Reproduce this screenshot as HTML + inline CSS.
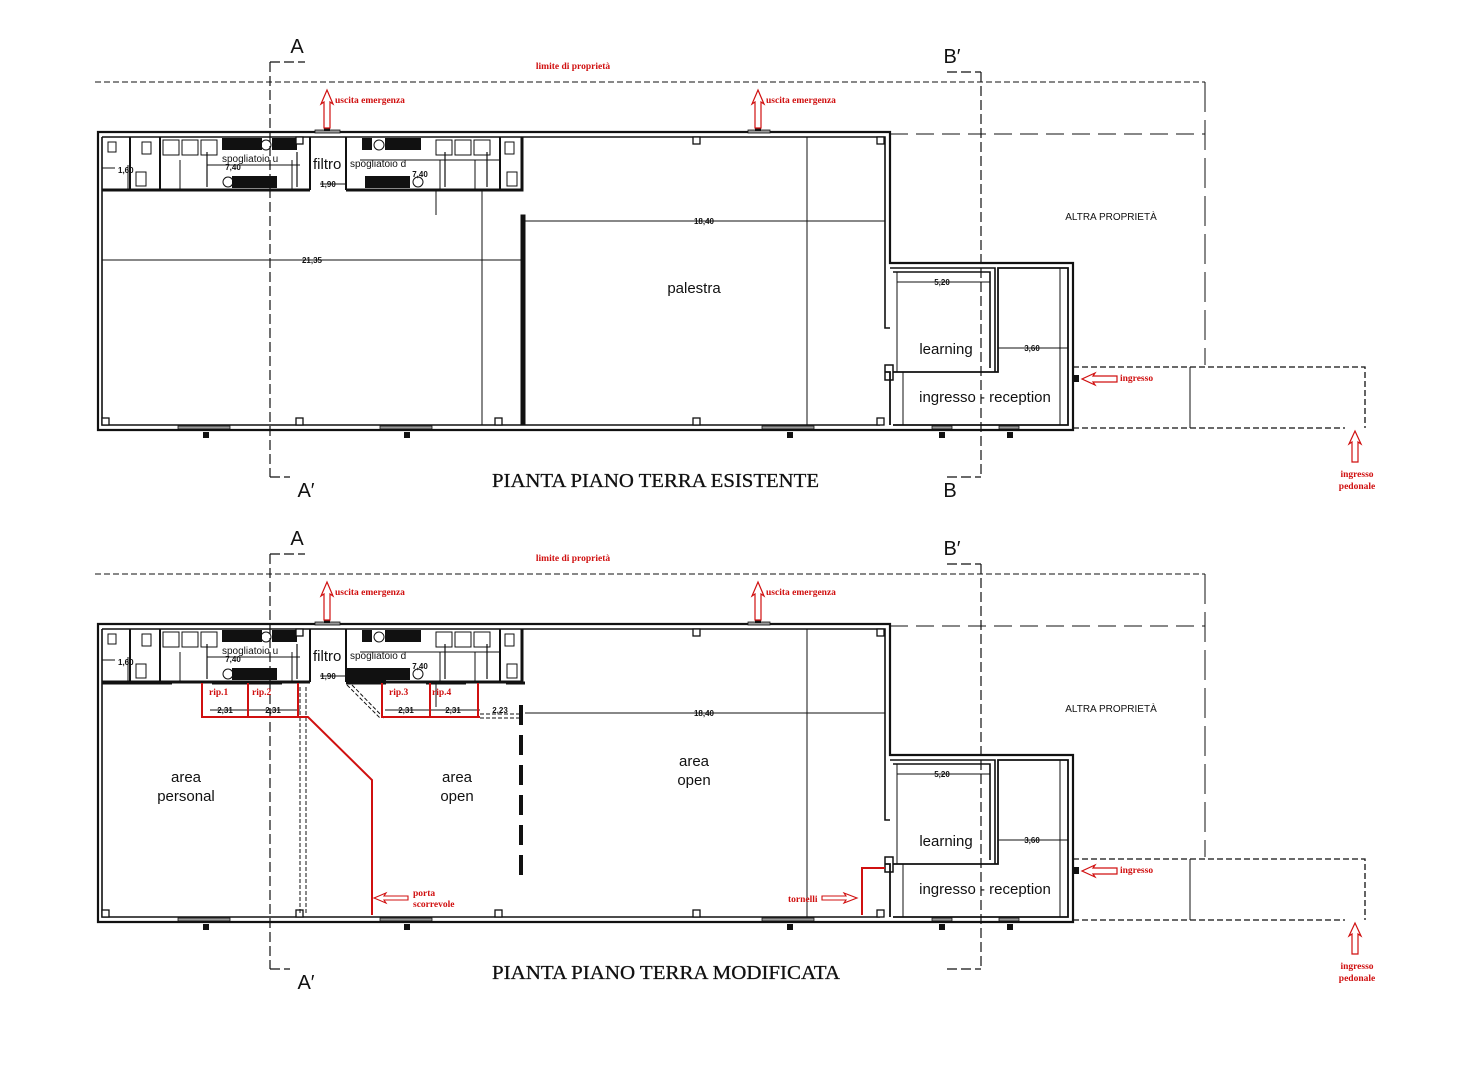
<!DOCTYPE html>
<html><head><meta charset="utf-8"><style>
html,body{margin:0;padding:0;background:#fff;}
svg{display:block}
.t{font-family:"Liberation Sans",sans-serif;fill:#111}
.r{font-family:"Liberation Serif",serif;fill:#d01010;font-weight:bold}
.d{font-family:"Liberation Sans",sans-serif;font-size:8px;font-weight:bold;fill:#111}
.ti{font-family:"Liberation Serif",serif;font-size:20px;fill:#111;stroke:#111;stroke-width:0.3}
</style></head><body>
<svg width="1480" height="1080" viewBox="0 0 1480 1080" xmlns="http://www.w3.org/2000/svg">
<defs>
<g id="base" fill="none" stroke="#111">
 <path d="M95 82H1205" stroke-dasharray="6 3" stroke-width="1"/>
 <path d="M1205 82V365" stroke-dasharray="30 8" stroke-width="1"/>
 <path d="M890 134H1205" stroke-dasharray="18 8" stroke-width="1"/>
 <path d="M1073 367H1365V428M1073 428H1345" stroke-dasharray="6 3" stroke-width="1.3"/>
 <path d="M1190 367V428" stroke-width="1"/>
 <path d="M270 62V477M270 62H305M270 477H290" stroke-dasharray="10 4" stroke-width="1.2"/>
 <path d="M981 72V477M947 72H981M947 477H981" stroke-dasharray="10 4" stroke-width="1.2"/>
 <path d="M98 132H890V263H1073V430H98Z" stroke-width="2.2"/>
 <path d="M102 137H885V328H890M102 137V425H880" stroke-width="1.6"/>
 <path d="M885 372H890V425M893 425H1068V268H998V372H893" stroke-width="1.8"/>
 <path d="M890 268H995V372M893 272H990V368" stroke-width="1.6"/>
 <path d="M885 365H893V380H885Z" stroke-width="1.5"/>
 <path d="M998 348H1068M1060 268V425M903 372V425M897 272V372" stroke-width="1"/>
 <path d="M522 137V190H346M310 190H102" stroke-width="3"/>
 <path d="M310 137V190M346 137V190M130 137V190M160 137V190M500 137V190" stroke-width="2"/>
 <path d="M207 152V187M297 152V187M445 152V187M487 152V187" stroke-width="1.2"/>
 <path d="M207 165H300M360 160H500M115 168H102" stroke-width="1"/>
 <g fill="#111" stroke="none">
  <rect x="222" y="138" width="40" height="12"/><rect x="272" y="138" width="25" height="12"/>
  <rect x="232" y="176" width="45" height="12"/><rect x="362" y="138" width="10" height="12"/>
  <rect x="385" y="138" width="36" height="12"/><rect x="365" y="176" width="45" height="12"/>
 </g>
 <g stroke-width="1">
  <rect x="163" y="140" width="16" height="15"/><rect x="182" y="140" width="16" height="15"/><rect x="201" y="140" width="16" height="15"/>
  <rect x="436" y="140" width="16" height="15"/><rect x="455" y="140" width="16" height="15"/><rect x="474" y="140" width="16" height="15"/>
  <rect x="108" y="142" width="8" height="10"/><rect x="142" y="142" width="9" height="12"/><rect x="136" y="172" width="10" height="14"/>
  <rect x="505" y="142" width="9" height="12"/><rect x="507" y="172" width="10" height="14"/>
  <circle cx="266" cy="145" r="5"/><circle cx="228" cy="182" r="5"/><circle cx="379" cy="145" r="5"/><circle cx="418" cy="182" r="5"/>
 </g>
 <g fill="#fff" stroke-width="1.3">
  <rect x="296" y="137" width="7" height="7"/><rect x="693" y="137" width="7" height="7"/><rect x="877" y="137" width="7" height="7"/>
  <rect x="102" y="418" width="7" height="7"/><rect x="296" y="418" width="7" height="7"/><rect x="495" y="418" width="7" height="7"/>
  <rect x="693" y="418" width="7" height="7"/><rect x="877" y="418" width="7" height="7"/>
 </g>
 <g fill="#999" stroke-width="0.8">
  <rect x="178" y="426" width="52" height="3"/><rect x="380" y="426" width="52" height="3"/><rect x="762" y="426" width="52" height="3"/>
  <rect x="932" y="426" width="20" height="3"/><rect x="999" y="426" width="20" height="3"/><rect x="315" y="130" width="25" height="3"/><rect x="748" y="130" width="22" height="3"/>
 </g>
 <g fill="#111" stroke="none">
  <rect x="203" y="432" width="6" height="6"/><rect x="404" y="432" width="6" height="6"/><rect x="787" y="432" width="6" height="6"/>
  <rect x="939" y="432" width="6" height="6"/><rect x="1007" y="432" width="6" height="6"/><rect x="1073" y="375" width="6" height="7"/>
  <rect x="324" y="124" width="6" height="7"/><rect x="755" y="124" width="6" height="7"/>
 </g>
 <g stroke-width="1">
  <path d="M525 221H885M807 137V425M897 282H990M998 348H1068"/>
  <path d="M1068 268V425"/>
  <path d="M180 190V160M292 190V160M475 160V190M440 160V190M320 184H346M128 165V190M436 190V215"/>
 </g>
 <g stroke="#d01010" stroke-width="1.2" fill="#fff">
  <path d="M324 128V102L321 104L327 90L333 104L330 102V128Z"/>
  <path d="M755 128V102L752 104L758 90L764 104L761 102V128Z"/>
  <path d="M1117 376H1093L1095 373L1082 379L1095 385L1093 382H1117Z"/>
  <path d="M1352 462V442L1349 444L1355 431L1361 444L1358 442V462Z"/>
 </g>
</g>
</defs>

<use href="#base"/>
<use href="#base" y="492"/>

<g stroke="#111" fill="none">
 <path d="M102 260H521M482 190V425" stroke-width="1"/>
 <rect x="521" y="215" width="4" height="210" fill="#111"/>
</g>
<g stroke="#111" fill="none">
 <path d="M102 683H305" stroke-width="3" stroke-dasharray="70 40"/>
 <path d="M346 683H525" stroke-width="3" stroke-dasharray="40 40"/>
 <rect x="346" y="668" width="40" height="14" fill="#111" stroke="none"/>
 <path d="M521 705V885" stroke-width="4" stroke-dasharray="20 10"/>
 <path d="M300 687V915M306 687V915M347 685L380 718M352 685L384 718M480 714H521M480 718H521" stroke-width="1" stroke-dasharray="4 2"/>
 <path d="M210 710H300M385 710H480" stroke-width="1"/>
</g>
<g stroke="#d01010" fill="none" stroke-width="2">
 <path d="M202 683V717H300M248 683V717M298 683V717"/>
 <path d="M382 683V717H480M430 683V717M478 683V717"/>
 <path d="M300 717H308L372 780V915"/>
 <path d="M862 915V868H885"/>
</g>
<g stroke="#d01010" stroke-width="1.1" fill="#fff">
 <path d="M408 896H384L386 893L374 898L386 903L384 900H408Z"/>
 <path d="M822 896H846L844 893L857 898L844 903L846 900H822Z"/>
</g>

<text class="t" x="297" y="53" font-size="20" text-anchor="middle">A</text>
<text class="t" x="306" y="497" font-size="20" text-anchor="middle">A′</text>
<text class="t" x="952" y="63" font-size="20" text-anchor="middle">B′</text>
<text class="t" x="950" y="497" font-size="20" text-anchor="middle">B</text>
<text class="r" x="573" y="69" font-size="9.5" text-anchor="middle">limite di proprietà</text>
<text class="r" x="335" y="103" font-size="9.5">uscita emergenza</text>
<text class="r" x="766" y="103" font-size="9.5">uscita emergenza</text>
<text class="r" x="1120" y="381" font-size="9.5">ingresso</text>
<text class="r" x="1357" y="477" font-size="9.5" text-anchor="middle">ingresso</text>
<text class="r" x="1357" y="489" font-size="9.5" text-anchor="middle">pedonale</text>
<text class="t" x="1111" y="220" font-size="10" text-anchor="middle">ALTRA PROPRIETÀ</text>
<text class="t" x="222" y="162" font-size="10">spogliatoio u</text>
<text class="t" x="313" y="169" font-size="15">filtro</text>
<text class="t" x="350" y="167" font-size="10">spogliatoio d</text>
<text class="t" x="694" y="293" font-size="15" text-anchor="middle">palestra</text>
<text class="t" x="946" y="354" font-size="15" text-anchor="middle">learning</text>
<text class="t" x="985" y="402" font-size="15" text-anchor="middle">ingresso - reception</text>
<text class="ti" x="492" y="487" textLength="327" lengthAdjust="spacingAndGlyphs">PIANTA PIANO TERRA ESISTENTE</text>
<g class="d">
 <text x="233" y="170" text-anchor="middle">7,40</text><text x="420" y="177" text-anchor="middle">7,40</text>
 <text x="328" y="187" text-anchor="middle">1,90</text><text x="118" y="173">1,60</text>
 <text x="704" y="224" text-anchor="middle">18,40</text><text x="312" y="263" text-anchor="middle">21,35</text>
 <text x="942" y="285" text-anchor="middle">5,20</text><text x="1032" y="351" text-anchor="middle">3,60</text>
</g>

<text class="t" x="297" y="545" font-size="20" text-anchor="middle">A</text>
<text class="t" x="306" y="989" font-size="20" text-anchor="middle">A′</text>
<text class="t" x="952" y="555" font-size="20" text-anchor="middle">B′</text>
<text class="r" x="573" y="561" font-size="9.5" text-anchor="middle">limite di proprietà</text>
<text class="r" x="335" y="595" font-size="9.5">uscita emergenza</text>
<text class="r" x="766" y="595" font-size="9.5">uscita emergenza</text>
<text class="r" x="1120" y="873" font-size="9.5">ingresso</text>
<text class="r" x="1357" y="969" font-size="9.5" text-anchor="middle">ingresso</text>
<text class="r" x="1357" y="981" font-size="9.5" text-anchor="middle">pedonale</text>
<text class="t" x="1111" y="712" font-size="10" text-anchor="middle">ALTRA PROPRIETÀ</text>
<text class="t" x="222" y="654" font-size="10">spogliatoio u</text>
<text class="t" x="313" y="661" font-size="15">filtro</text>
<text class="t" x="350" y="659" font-size="10">spogliatoio d</text>
<text class="t" x="186" y="782" font-size="15" text-anchor="middle">area</text>
<text class="t" x="186" y="801" font-size="15" text-anchor="middle">personal</text>
<text class="t" x="457" y="782" font-size="15" text-anchor="middle">area</text>
<text class="t" x="457" y="801" font-size="15" text-anchor="middle">open</text>
<text class="t" x="694" y="766" font-size="15" text-anchor="middle">area</text>
<text class="t" x="694" y="785" font-size="15" text-anchor="middle">open</text>
<text class="t" x="946" y="846" font-size="15" text-anchor="middle">learning</text>
<text class="t" x="985" y="894" font-size="15" text-anchor="middle">ingresso - reception</text>
<text class="r" x="209" y="695" font-size="9.5">rip.1</text>
<text class="r" x="252" y="695" font-size="9.5">rip.2</text>
<text class="r" x="389" y="695" font-size="9.5">rip.3</text>
<text class="r" x="432" y="695" font-size="9.5">rip.4</text>
<text class="r" x="413" y="896" font-size="9.5">porta</text>
<text class="r" x="413" y="907" font-size="9.5">scorrevole</text>
<text class="r" x="788" y="902" font-size="9.5">tornelli</text>
<text class="ti" x="492" y="979" textLength="348" lengthAdjust="spacingAndGlyphs">PIANTA PIANO TERRA MODIFICATA</text>
<g class="d">
 <text x="233" y="662" text-anchor="middle">7,40</text><text x="420" y="669" text-anchor="middle">7,40</text>
 <text x="328" y="679" text-anchor="middle">1,90</text><text x="118" y="665">1,60</text>
 <text x="704" y="716" text-anchor="middle">18,40</text>
 <text x="225" y="713" text-anchor="middle">2,31</text><text x="273" y="713" text-anchor="middle">2,31</text>
 <text x="406" y="713" text-anchor="middle">2,31</text><text x="453" y="713" text-anchor="middle">2,31</text><text x="500" y="713" text-anchor="middle">2,23</text>
 <text x="942" y="777" text-anchor="middle">5,20</text><text x="1032" y="843" text-anchor="middle">3,60</text>
</g>
</svg>
</body></html>
